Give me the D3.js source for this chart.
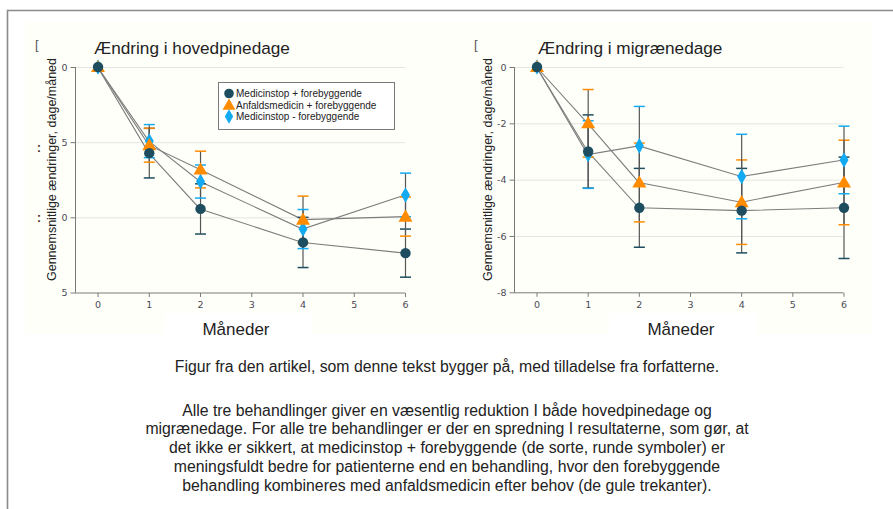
<!DOCTYPE html>
<html>
<head>
<meta charset="utf-8">
<script src="https://cdnjs.cloudflare.com/ajax/libs/d3/7.8.5/d3.min.js"></script>
<style>
  html, body { margin: 0; padding: 0; background: #ffffff; }
  svg { display: block; }
  text { font-family: "Liberation Sans", Arial, sans-serif; }
</style>
</head>
<body>
<svg id="chart" width="893" height="509"></svg>
<script>
// ---------- DATA ----------
const months = [0, 1, 2, 4, 6];
const xTicks = [0, 1, 2, 3, 4, 5, 6];
const seriesNames = ["Medicinstop + forebyggende", "Anfaldsmedicin + forebyggende", "Medicinstop - forebyggende"];

// Headache days (left chart)
const headMedstop    = [0, -5.73, -9.44, -11.67, -12.38];
const headMedstopErr = [0, 1.65, 1.67, 1.67, 1.6];
const headAcute      = [0, -5.2, -6.82, -10.15, -9.95];
const headAcuteErr   = [0, 1.13, 1.22, 1.56, 1.3];
const headNoPrev     = [0, -4.93, -7.62, -10.78, -8.51];
const headNoPrevErr  = [0, 1.1, 1.1, 1.3, 1.45];
const headTicks      = [0, -5, -10, -15];
const headTickLabels = ["0", "5", "0", "5"];

// Migraine days (right chart)
const migMedstop    = [0, -3.0, -5.0, -5.1, -5.0];
const migMedstopErr = [0, 1.3, 1.4, 1.5, 1.8];
const migAcute      = [0, -2.0, -4.1, -4.8, -4.1];
const migAcuteErr   = [0, 1.2, 1.4, 1.5, 1.5];
const migNoPrev     = [0, -3.11, -2.8, -3.89, -3.3];
const migNoPrevErr  = [0, 1.2, 1.4, 1.5, 1.2];
const migTicks      = [0, -2, -4, -6, -8];
const migTickLabels = ["0", "-2", "-4", "-6", "-8"];

const titles = ["Ændring i hovedpinedage", "Ændring i migrænedage"];
const yLabel = "Gennemsnitlige ændringer, dage/måned";
const xLabel = "Måneder";
const captionTop = "Figur fra den artikel, som denne tekst bygger på, med tilladelse fra forfatterne.";
const captionLines = [
  "Alle tre behandlinger giver en væsentlig reduktion I både hovedpinedage og",
  "migrænedage. For alle tre behandlinger er der en spredning I resultaterne, som gør, at",
  "det ikke er sikkert, at medicinstop + forebyggende (de sorte, runde symboler) er",
  "meningsfuldt bedre for patienterne end en behandling, hvor den forebyggende",
  "behandling kombineres med anfaldsmedicin efter behov (de gule trekanter)."
];

// ---------- STYLE ----------
const colors = ["#1d4d5e", "#ff8c00", "#13aaf2"];
const shapes = [d3.symbolCircle, d3.symbolTriangle, d3.symbolDiamond];
const shapeSizes = [85, 85, 70];

const svg = d3.select("#chart");

// Frame
svg.append("rect").attr("x", 0).attr("y", 0).attr("width", 893).attr("height", 509).attr("fill", "#ffffff");
svg.append("rect").attr("x", 25).attr("y", 22).attr("width", 847).attr("height", 312).attr("fill", "#fffffa");
svg.append("path").attr("d", "M7.5,520 L7.5,10.5 L900,10.5")
  .attr("fill", "none").attr("stroke", "#8a8a8a").attr("stroke-width", 1.6);

function drawChart(cfg) {
  const g = svg.append("g");
  const x = d3.scaleLinear().domain([-0.44, 6]).range([cfg.left, cfg.right]);
  const y = d3.scaleLinear().domain([cfg.ticks[cfg.ticks.length - 1], 0]).range([cfg.bottom, cfg.top]);

  // white box under x label
  g.append("rect").attr("x", cfg.xLabelX - 72).attr("y", 313)
    .attr("width", 148).attr("height", 28).attr("fill", "#ffffff");

  // gridlines
  g.selectAll(".grid").data(cfg.ticks.slice(0, -1)).enter().append("line")
    .attr("x1", cfg.left).attr("x2", x(6))
    .attr("y1", d => y(d) + 0.5).attr("y2", d => y(d) + 0.5)
    .attr("stroke", "#e4e4e0").attr("stroke-width", 1);

  // y axis
  const yAxis = d3.axisLeft(y).tickValues(cfg.ticks).tickSize(5).tickPadding(3)
    .tickFormat((d, i) => cfg.tickLabels[i]);
  const ya = g.append("g").attr("transform", `translate(${cfg.left + 0.5},0)`).call(yAxis);
  ya.select(".domain").attr("stroke", "#7a7a7a").attr("d", `M0,${cfg.top}V${cfg.bottom}`);
  ya.selectAll(".tick line").attr("stroke", "#7a7a7a");
  ya.selectAll(".tick text").attr("fill", "#4a4a55")
    .style("font-family", "'DejaVu Sans', sans-serif").style("font-size", "9.5px");

  // x axis
  const xAxis = d3.axisBottom(x).tickValues(xTicks).tickSize(4).tickPadding(4).tickFormat(d3.format("d"));
  const xa = g.append("g").attr("transform", `translate(0,${cfg.bottom + 0.5})`).call(xAxis);
  xa.select(".domain").attr("stroke", "#7a7a7a").attr("d", `M${cfg.left},0H${x(6)}`);
  xa.selectAll(".tick line").attr("stroke", "#7a7a7a");
  xa.selectAll(".tick text").attr("fill", "#4a4a55")
    .style("font-family", "'DejaVu Sans', sans-serif").style("font-size", "9.5px");

  // series lines
  const line = d3.line().x((d, i) => x(months[i])).y(d => y(d));
  cfg.series.forEach(s => {
    g.append("path").datum(s.values).attr("d", line)
      .attr("fill", "none").attr("stroke", "#7d7d7d").attr("stroke-width", 1.1);
  });

  // error bars
  cfg.series.forEach((s, si) => {
    months.forEach((m, i) => {
      const e = s.err[i];
      if (!e) return;
      const cx = x(m) + 0.5;
      g.append("line").attr("x1", cx).attr("x2", cx)
        .attr("y1", y(s.values[i] + e)).attr("y2", y(s.values[i] - e))
        .attr("stroke", "#555555").attr("stroke-width", 1.2);
      [s.values[i] + e, s.values[i] - e].forEach(v => {
        g.append("line").attr("x1", cx - 5.5).attr("x2", cx + 5.5)
          .attr("y1", y(v)).attr("y2", y(v))
          .attr("stroke", colors[si]).attr("stroke-width", 1.5);
      });
    });
  });

  // markers: diamond, triangle, circle (circle on top)
  [2, 1, 0].forEach(si => {
    const s = cfg.series[si];
    g.selectAll(null).data(s.values).enter().append("path")
      .attr("d", d3.symbol().type(shapes[si]).size(shapeSizes[si]))
      .attr("transform", (d, i) => `translate(${x(months[i]) + 0.5},${y(d) + (si === 1 ? 1 : 0)})`)
      .attr("fill", colors[si]);
  });

  // title
  g.append("text").attr("x", cfg.titleX).attr("y", 54).text(cfg.title)
    .attr("fill", "#222").style("font-size", "17.2px");

  // y label
  g.append("text").attr("transform", `translate(${cfg.yLabelX},${(cfg.top + 278) / 2 - 3}) rotate(-90)`)
    .attr("text-anchor", "middle").text(yLabel).attr("fill", "#222").style("font-size", "12.5px");

  // x label
  g.append("text").attr("x", cfg.xLabelX).attr("y", 335)
    .attr("text-anchor", "middle").text(xLabel).attr("fill", "#222").style("font-size", "17px");

  // stray bracket glyph
  g.append("text").attr("x", cfg.left - 40).attr("y", 49).text("[")
    .attr("fill", "#555").style("font-size", "13px");
  return { x, y, g };
}

drawChart({
  left: 75, right: 405, top: 67, bottom: 292.5,
  ticks: headTicks, tickLabels: headTickLabels,
  title: titles[0], titleX: 94, yLabelX: 56, xLabelX: 236,
  series: [
    { values: headMedstop, err: headMedstopErr },
    { values: headAcute, err: headAcuteErr },
    { values: headNoPrev, err: headNoPrevErr }
  ]
});

drawChart({
  left: 514, right: 843.5, top: 67, bottom: 292.3,
  ticks: migTicks, tickLabels: migTickLabels,
  title: titles[1], titleX: 538, yLabelX: 492, xLabelX: 681,
  series: [
    { values: migMedstop, err: migMedstopErr },
    { values: migAcute, err: migAcuteErr },
    { values: migNoPrev, err: migNoPrevErr }
  ]
});

// stray marks at left edge
[[37, 152], [37, 222]].forEach(p => {
  svg.append("text").attr("x", p[0]).attr("y", p[1]).text(":")
    .attr("fill", "#4a2a1a").style("font-size", "12px").style("font-weight", "bold");
});

// legend
const lg = svg.append("g");
lg.append("rect").attr("x", 218.5).attr("y", 82.5).attr("width", 176).attr("height", 47)
  .attr("fill", "#ffffff").attr("stroke", "#7a7a7a").attr("stroke-width", 1);
seriesNames.forEach((name, i) => {
  const cy = 93.5 + i * 11.5;
  lg.append("path").attr("d", d3.symbol().type(shapes[i]).size(shapeSizes[i] * 0.85))
    .attr("transform", `translate(229,${cy + (i === 1 ? 1 : 0)})`).attr("fill", colors[i]);
  lg.append("text").attr("x", 236).attr("y", cy + 3.5).text(name)
    .attr("fill", "#222").style("font-size", "10px");
});

// caption
svg.append("text").attr("x", 447).attr("y", 371.5).attr("text-anchor", "middle")
  .text(captionTop).attr("fill", "#222").style("font-size", "15.8px");
captionLines.forEach((t, i) => {
  svg.append("text").attr("x", 447).attr("y", 415.5 + i * 18.8).attr("text-anchor", "middle")
    .text(t).attr("fill", "#222").style("font-size", "15.8px");
});
</script>
</body>
</html>
